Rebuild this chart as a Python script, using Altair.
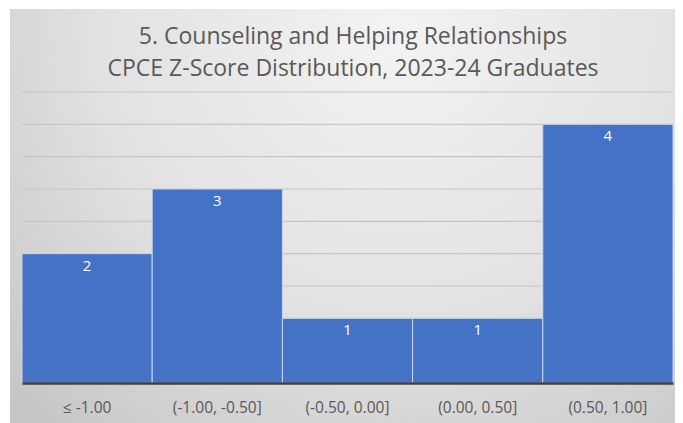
import altair as alt
import pandas as pd

categories = ["≤ -1.00", "(-1.00, -0.50]", "(-0.50, 0.00]", "(0.00, 0.50]", "(0.50, 1.00]"]
counts = [2, 3, 1, 1, 4]
grid_values = [0.5, 1.0, 1.5, 2.0, 2.5, 3.0, 3.5, 4.0, 4.5]
title_lines = ["5. Counseling and Helping Relationships", "CPCE Z-Score Distribution, 2023-24 Graduates"]

W, H = 651, 291
PAD = {"left": 14, "top": 84, "right": 2, "bottom": 40}
FONT = "Open Sans"

df = pd.DataFrame({"cat": categories, "count": counts})
gdf = pd.DataFrame({"g": grid_values})

xscale = alt.Scale(domain=categories, paddingInner=0, paddingOuter=0)
yscale = alt.Scale(domain=[0, 4.5], nice=False)

bg = alt.Chart(alt.Data(values=[{}])).mark_rect(
    clip=False,
    color=alt.Gradient(
        gradient="radial",
        stops=[alt.GradientStop(color="#f3f3f3", offset=0),
               alt.GradientStop(color="#e2e2e2", offset=0.55),
               alt.GradientStop(color="#c6c6c6", offset=1)],
        x1=0.58, y1=0.22, r1=0, x2=0.58, y2=0.22, r2=0.8,
    ),
).encode(
    x=alt.value(-PAD["left"] + 2), x2=alt.value(W + PAD["right"]),
    y=alt.value(-PAD["top"] + 1), y2=alt.value(H + PAD["bottom"]),
)

title_layers = [
    alt.Chart(alt.Data(values=[{"t": line}])).mark_text(
        font=FONT, fontSize=23, color="#595959", baseline="alphabetic", align="center", clip=False,
    ).encode(x=alt.value(331), y=alt.value(yv), text="t:N")
    for line, yv in zip(title_lines, [-48, -16])
]

grid = alt.Chart(gdf).mark_rule(color="#c6c6c6", strokeWidth=1.2).encode(
    y=alt.Y("g:Q", scale=yscale, axis=None),
)

bars = alt.Chart(df).mark_bar(color="#4472C4", stroke="#c9d5ec", strokeWidth=1).encode(
    x=alt.X("cat:N", sort=categories, scale=xscale, title=None,
            axis=alt.Axis(labelAngle=0, labelFont=FONT, labelFontSize=15.5, labelColor="#595959",
                          labelPadding=17, ticks=False, domainColor="#404040", domainWidth=2.5,
                          grid=False, zindex=1)),
    y=alt.Y("count:Q", scale=yscale, axis=None),
)

labels = alt.Chart(df).mark_text(color="white", font=FONT, fontSize=15, baseline="top", dy=5).encode(
    x=alt.X("cat:N", sort=categories, scale=xscale),
    y=alt.Y("count:Q", scale=yscale),
    text=alt.Text("count:Q"),
)

chart = alt.layer(bg, *title_layers, grid, bars, labels).properties(
    width=W, height=H,
    padding=PAD,
    autosize=alt.AutoSizeParams(type="none"),
).configure_view(stroke=None).configure(background="white")

chart.save("out.html", embed_options={"renderer": "svg", "actions": False})
